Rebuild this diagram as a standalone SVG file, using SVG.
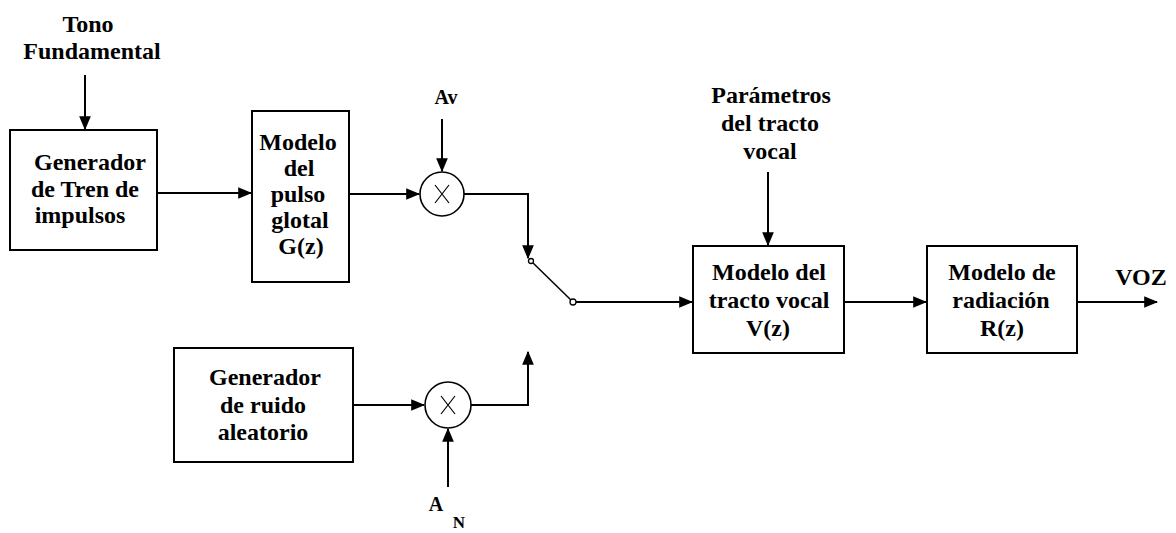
<svg xmlns="http://www.w3.org/2000/svg" width="1176" height="533" viewBox="0 0 1176 533">
<defs>
<marker id="arr" markerUnits="userSpaceOnUse" markerWidth="14" markerHeight="14" viewBox="0 0 12 12" refX="11" refY="6" orient="auto">
<path d="M0,1 L12,6 L0,11 Z" fill="#000"/>
</marker>
<style>
.box{fill:#fff;stroke:#000;stroke-width:2}
.ln{fill:none;stroke:#000;stroke-width:2}
.t{font-family:"Liberation Serif",serif;font-weight:bold;font-size:24px;fill:#000;text-anchor:middle}
.mul{fill:#fff;stroke:#000;stroke-width:1.6}
.x{stroke:#000;stroke-width:1.2}
</style>
</defs>
<rect width="1176" height="533" fill="#fff"/>

<g id="connectors">
<path class="ln" d="M85 75 V129" marker-end="url(#arr)"/>
<path class="ln" d="M157 193 H251" marker-end="url(#arr)"/>
<path class="ln" d="M349 194 H419" marker-end="url(#arr)"/>
<path class="ln" d="M442 119 V171" marker-end="url(#arr)"/>
<path class="ln" d="M464 194 H528 V258" marker-end="url(#arr)"/>
<line x1="573" y1="302" x2="531" y2="261" stroke="#000" stroke-width="1.5"/>
<circle cx="531" cy="261" r="2.5" fill="#fff" stroke="#000" stroke-width="1.3"/>
<circle cx="573" cy="302" r="3" fill="#fff" stroke="#000" stroke-width="1.3"/>
<path class="ln" d="M576 302 H692" marker-end="url(#arr)"/>
<path class="ln" d="M353 405 H424" marker-end="url(#arr)"/>
<path class="ln" d="M471 405 H528 V352" marker-end="url(#arr)"/>
<path class="ln" d="M448 487 V429" marker-end="url(#arr)"/>
<path class="ln" d="M768 172 V245" marker-end="url(#arr)"/>
<path class="ln" d="M844 302 H926" marker-end="url(#arr)"/>
<path class="ln" d="M1077 302 H1157" marker-end="url(#arr)"/>
</g>

<g id="tono">
<text class="t" x="88" y="32">Tono</text>
<text class="t" x="92" y="59">Fundamental</text>
</g>

<g id="gen-tren">
<rect class="box" x="10" y="130" width="147" height="120"/>
<text class="t" x="90" y="170">Generador</text>
<text class="t" x="85" y="197">de Tren de</text>
<text class="t" x="80" y="223">impulsos</text>
</g>

<g id="pulso-glotal">
<rect class="box" x="252" y="111" width="97" height="171"/>
<text class="t" x="298" y="150">Modelo</text>
<text class="t" x="299" y="176">del</text>
<text class="t" x="298" y="202">pulso</text>
<text class="t" x="300" y="228">glotal</text>
<text class="t" x="301" y="254">G(z)</text>
</g>

<g id="av">
<text class="t" x="446" y="104" style="font-size:20px">Av</text>
</g>

<g id="mult-v">
<circle class="mul" cx="442" cy="194" r="22"/>
<path class="x" d="M435 185 L449 203 M449 185 L435 203"/>
</g>

<g id="gen-ruido">
<rect class="box" x="174" y="348" width="179" height="114"/>
<text class="t" x="265" y="385">Generador</text>
<text class="t" x="263" y="413">de ruido</text>
<text class="t" x="263" y="440">aleatorio</text>
</g>

<g id="mult-n">
<circle class="mul" cx="448" cy="405" r="23"/>
<path class="x" d="M441 396 L455 414 M455 396 L441 414"/>
</g>

<g id="an">
<text class="t" x="436" y="511" style="font-size:20px">A</text>
<text class="t" x="459" y="528" style="font-size:17px">N</text>
</g>

<g id="parametros">
<text class="t" x="771" y="103">Parámetros</text>
<text class="t" x="770" y="131">del tracto</text>
<text class="t" x="770" y="159">vocal</text>
</g>

<g id="tracto-vocal">
<rect class="box" x="693" y="246" width="151" height="107"/>
<text class="t" x="769" y="280">Modelo del</text>
<text class="t" x="769" y="308">tracto vocal</text>
<text class="t" x="768" y="336">V(z)</text>
</g>

<g id="radiacion">
<rect class="box" x="927" y="246" width="150" height="107"/>
<text class="t" x="1002" y="280">Modelo de</text>
<text class="t" x="1001" y="308">radiación</text>
<text class="t" x="1002" y="336">R(z)</text>
</g>

<g id="voz">
<text class="t" x="1141" y="285">VOZ</text>
</g>
</svg>
